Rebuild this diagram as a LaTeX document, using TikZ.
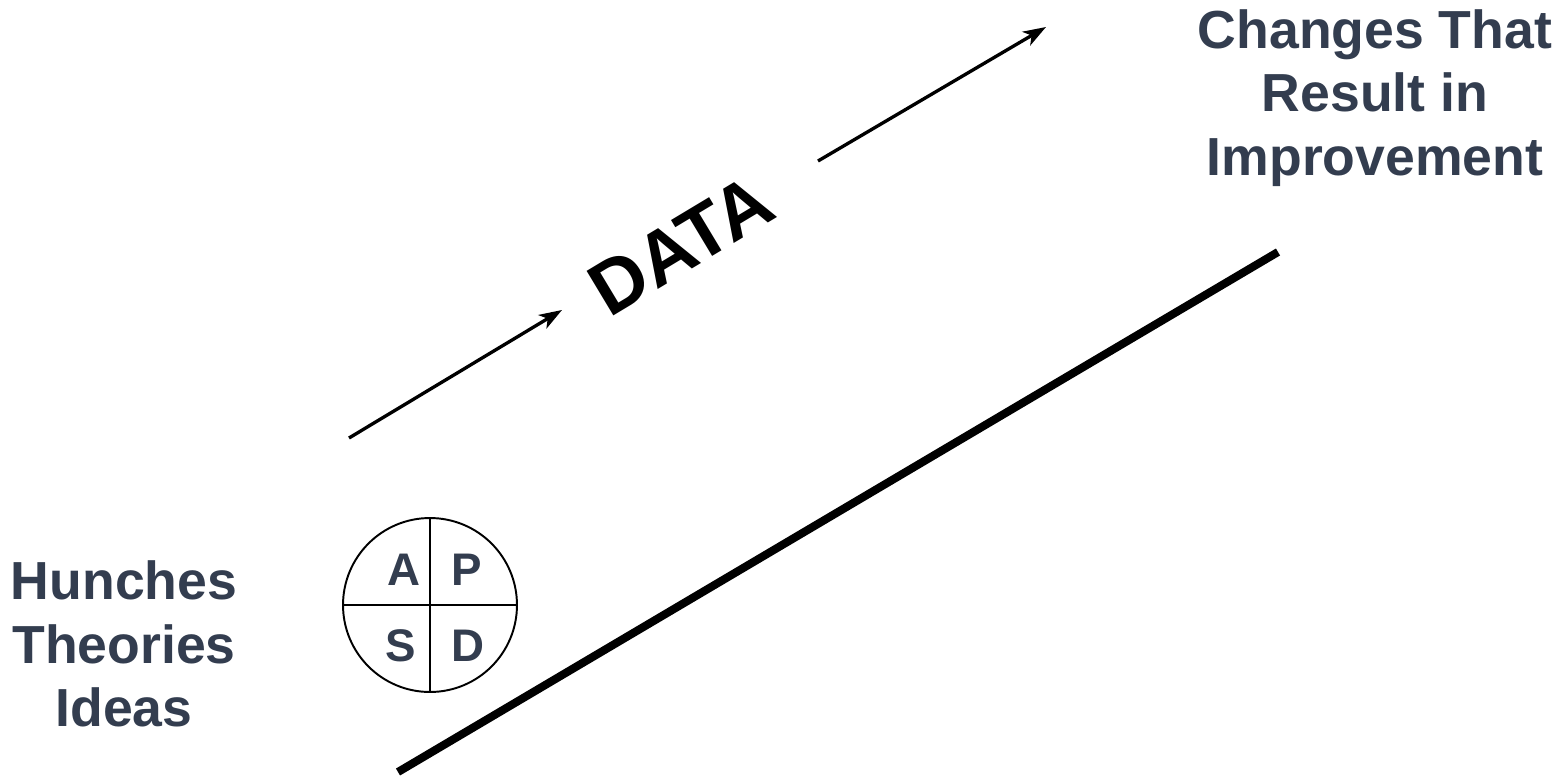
\documentclass[tikz,border=0pt]{standalone}
\usepackage{fontspec}
\setmainfont{Liberation Sans}
\usetikzlibrary{arrows.meta}
\definecolor{slate}{HTML}{333D4F}
\begin{document}
\begin{tikzpicture}[x=0.02cm, y=-0.02cm, >={Stealth[length=13pt, width=9pt, inset=3.5pt]}]

\tikzstyle{label} = [font=\fontsize{30.5}{36}\selectfont\bfseries, color=slate, align=center]
\tikzstyle{quad} = [font=\fontsize{26}{30}\selectfont\bfseries, color=slate]
\tikzstyle{flow} = [->, line width=1.9pt, black]

\useasboundingbox (0, 0) rectangle (1563, 779);

% --- texte links und rechts
\node[label] (hunches) at (124, 644) {Hunches\\Theories\\Ideas};
\node[label] (changes) at (1375, 98) {Changes That\\Result in\\Improvement};

% --- PDSA kreis
\node[draw, circle, line width=1.1pt, minimum size=3.48cm, inner sep=0pt] (pdsa) at (430, 605) {};
\draw[line width=1.1pt] (pdsa.north) -- (pdsa.south);
\draw[line width=1.1pt] (pdsa.west) -- (pdsa.east);
\node[quad] (qa) at (404, 570) {A};
\node[quad] (qp) at (467, 570) {P};
\node[quad] (qs) at (401, 646) {S};
\node[quad] (qd) at (468, 646) {D};

% --- DATA pfeile
\coordinate (a1s) at (349, 438);
\coordinate (a1e) at (562, 310);
\coordinate (a2s) at (818, 161);
\coordinate (a2e) at (1046, 27);
\draw[flow] (a1s) -- (a1e);
\draw[flow] (a2s) -- (a2e);

\node[font=\fontsize{43}{43}\selectfont\bfseries, rotate=31] (data) at (681, 245) {DATA};

% --- grundlinie
\coordinate (base_s) at (398, 772);
\coordinate (base_e) at (1278, 252);
\draw[line width=4.6pt] (base_s) -- (base_e);

\end{tikzpicture}
\end{document}
